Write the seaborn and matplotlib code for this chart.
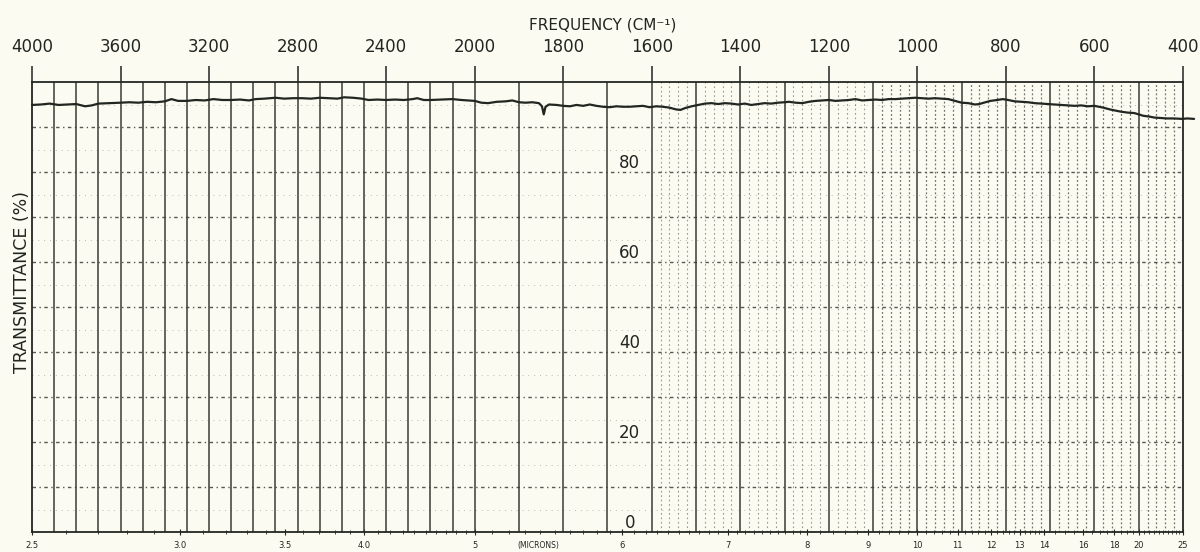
import numpy as np
import pandas as pd
import matplotlib
matplotlib.use("Agg")
import matplotlib.pyplot as plt
import seaborn as sns

# Infrared spectrum: wavenumber (cm^-1) and transmittance (%)
wavenumber = [
    4000, 3960, 3920, 3880, 3840, 3800, 3760, 3730, 3700, 3650, 3600, 3560,
    3520, 3480, 3440, 3400, 3370, 3340, 3300, 3260, 3220, 3180, 3140, 3100,
    3060, 3020, 2990, 2950, 2900, 2860, 2820, 2780, 2740, 2700, 2660, 2620,
    2590, 2550, 2510, 2480, 2440, 2400, 2360, 2320, 2280, 2260, 2230, 2200,
    2150, 2100, 2060, 2030, 2000, 1985, 1970, 1950, 1930, 1915, 1900, 1885,
    1870, 1855, 1848, 1844, 1840, 1832, 1815, 1800, 1785, 1770, 1755, 1740,
    1725, 1710, 1695, 1680, 1665, 1650, 1635, 1620, 1605, 1590, 1575, 1560,
    1545, 1535, 1525, 1510, 1495, 1480, 1465, 1450, 1435, 1420, 1405, 1390,
    1375, 1360, 1345, 1330, 1315, 1300, 1290, 1275, 1260, 1245, 1230, 1215,
    1200, 1185, 1170, 1155, 1140, 1125, 1110, 1095, 1080, 1065, 1050, 1035,
    1020, 1005, 990, 975, 960, 945, 930, 915, 900, 885, 870, 860,
    850, 835, 820, 807, 795, 780, 765, 750, 735, 720, 705, 690,
    675, 660, 645, 630, 615, 600, 590, 580, 565, 550, 540, 525,
    510, 500, 490, 475, 465, 450, 436, 420, 402, 390, 375,
]
transmittance = [
    94.9, 95.0, 95.2, 94.9, 95.0, 95.1, 94.6, 94.8, 95.2, 95.3, 95.4, 95.5,
    95.4, 95.6, 95.5, 95.7, 96.2, 95.8, 95.8, 96.0, 95.9, 96.2, 96.0, 96.0,
    96.1, 95.9, 96.2, 96.3, 96.5, 96.3, 96.4, 96.4, 96.3, 96.5, 96.4, 96.3,
    96.6, 96.5, 96.3, 96.0, 96.1, 96.0, 96.1, 96.0, 96.2, 96.4, 96.0, 96.0,
    96.1, 96.2, 96.0, 95.9, 95.8, 95.4, 95.3, 95.6, 95.7, 95.9, 95.5, 95.4,
    95.5, 95.3, 94.6, 92.8, 94.5, 95.0, 94.9, 94.7, 94.6, 94.9, 94.7, 95.0,
    94.7, 94.5, 94.4, 94.6, 94.5, 94.5, 94.6, 94.7, 94.4, 94.6, 94.5, 94.3,
    93.9, 93.8, 94.2, 94.6, 94.9, 95.2, 95.3, 95.1, 95.3, 95.2, 95.0, 95.2,
    94.9, 95.1, 95.3, 95.2, 95.4, 95.5, 95.6, 95.4, 95.3, 95.6, 95.8, 95.9,
    96.0, 95.8, 95.9, 96.0, 96.2, 95.9, 96.0, 96.1, 96.0, 96.2, 96.2, 96.3,
    96.4, 96.5, 96.4, 96.3, 96.4, 96.3, 96.2, 95.8, 95.4, 95.3, 95.0, 95.1,
    95.4, 95.8, 96.0, 96.2, 96.0, 95.7, 95.6, 95.5, 95.3, 95.2, 95.1, 95.0,
    94.9, 94.8, 94.7, 94.8, 94.6, 94.7, 94.5, 94.3, 93.9, 93.6, 93.4, 93.2,
    93.1, 92.8, 92.5, 92.3, 92.1, 92.0, 91.9, 91.9, 91.8, 91.9, 91.8,
]

freq_ticks = [4000, 3600, 3200, 2800, 2400, 2000, 1800, 1600, 1400, 1200,
              1000, 800, 600, 400]
micron_ticks = [2.5, 3.0, 3.5, 4.0, 5, 6, 7, 8, 9, 10, 11, 12, 13, 14, 16,
                18, 20, 25]
micron_labels = ["2.5", "3.0", "3.5", "4.0", "5", "6", "7", "8", "9", "10",
                 "11", "12", "13", "14", "16", "18", "20", "25"]
percent_labels = [80, 60, 40, 20, 0]


# Chart paper: above 2000 cm^-1 the scale is compressed by half
def to_chart(nu):
    nu = np.asarray(nu, dtype=float)
    return np.where(nu <= 2000, nu, 2000 + (nu - 2000) / 2)


def from_chart(u):
    u = np.asarray(u, dtype=float)
    return np.where(u <= 2000, u, 2000 + (u - 2000) * 2)


sns.set_theme(style="white")
plt.rcParams["font.family"] = ["DejaVu Sans"]

PAPER = "#fbfbf1"
INK = "#222621"
GRID = "#383d36"

fig = plt.figure(figsize=(12, 5.52), dpi=100, facecolor=PAPER)
ax = fig.add_axes([32 / 1200, 1 - 532 / 552, 1151 / 1200, 450 / 552])
ax.set_facecolor(PAPER)

df = pd.DataFrame({"wavenumber": wavenumber, "transmittance": transmittance})
sns.lineplot(data=df, x="wavenumber", y="transmittance", ax=ax, color=INK,
             lw=1.6, clip_on=False, zorder=5, legend=False)

ax.set_xscale("function", functions=(to_chart, from_chart))
ax.set_xlim(4000, 400)
ax.set_ylim(0, 100)
ax.set_xlabel("")
ax.set_ylabel("")
ax.set_yticks([])

# Grid of the chart paper
hundreds = np.arange(500, 4000, 100)
ax.vlines(hundreds, 0, 100, colors=GRID, lw=1.1, zorder=1)
fine_mid = [v for v in range(1120, 1600, 20) if v % 100 != 0]
fine_low = [v for v in range(420, 1120, 20) if v % 100 != 0]
ax.vlines(fine_mid, 0, 100, colors=GRID, lw=0.8, linestyles=(0, (1.5, 2.5)),
          alpha=0.5, zorder=1)
ax.vlines(fine_low, 0, 100, colors=GRID, lw=0.9, linestyles=(0, (1.5, 1.8)),
          alpha=0.7, zorder=1)
ax.hlines(np.arange(10, 100, 10), 4000, 400, colors=GRID, lw=1.0,
          linestyles=(0, (2.5, 2.5, 1, 2.5)), alpha=0.85, zorder=1)
ax.hlines(np.arange(5, 100, 10), 4000, 400, colors=GRID, lw=0.7,
          linestyles=(0, (1, 5)), alpha=0.35, zorder=1)

for s in ax.spines.values():
    s.set_color(INK)
    s.set_linewidth(1.3)

# Bottom axis: wavelength in microns
ax.set_xticks([10000 / m for m in micron_ticks])
ax.set_xticklabels(micron_labels)
minor_um = np.concatenate([np.arange(2.6, 8.0, 0.1), np.arange(8.2, 14.0, 0.2),
                           np.arange(14.5, 25.0, 0.5)])
ax.set_xticks(10000 / minor_um, minor=True)
ax.tick_params(axis="x", which="major", bottom=True, top=False,
               direction="inout", length=5, width=0.8, pad=4, labelsize=6,
               colors=INK)
ax.tick_params(axis="x", which="minor", bottom=True, top=False,
               direction="inout", length=3, width=0.6, colors=INK)
ax.text(1856, -0.031, "(MICRONS)", transform=ax.get_xaxis_transform(),
        ha="center", va="center", fontsize=5.5, color=INK)

# Top axis: frequency, on the same two-part scale
ax_top = ax.twiny()
ax_top.set_xscale("function", functions=(to_chart, from_chart))
ax_top.set_xlim(4000, 400)
ax_top.set_xticks(freq_ticks)
ax_top.set_xticklabels([str(f) for f in freq_ticks])
ax_top.xaxis.set_minor_locator(matplotlib.ticker.NullLocator())
ax_top.tick_params(axis="x", which="major", top=True, bottom=False,
                   direction="out", length=11.5, width=1.1, pad=7,
                   labelsize=12, colors=INK)
for s in ax_top.spines.values():
    s.set_visible(False)
fig.text(603 / 1200, 1 - 25 / 552, "FREQUENCY (CM⁻¹)", ha="center",
         va="center", fontsize=11, color=INK)

# Transmittance scale written on the chart
for p in percent_labels:
    ax.text(1650, p + 2.0, str(p), ha="center", va="center", fontsize=12,
            color=INK, zorder=4)
ax.text(-0.009, 0.556, "TRANSMITTANCE (%)", rotation=90,
        transform=ax.transAxes, ha="center", va="center", fontsize=12.5,
        color=INK)

fig.savefig("out.png", dpi=100, facecolor=PAPER)
